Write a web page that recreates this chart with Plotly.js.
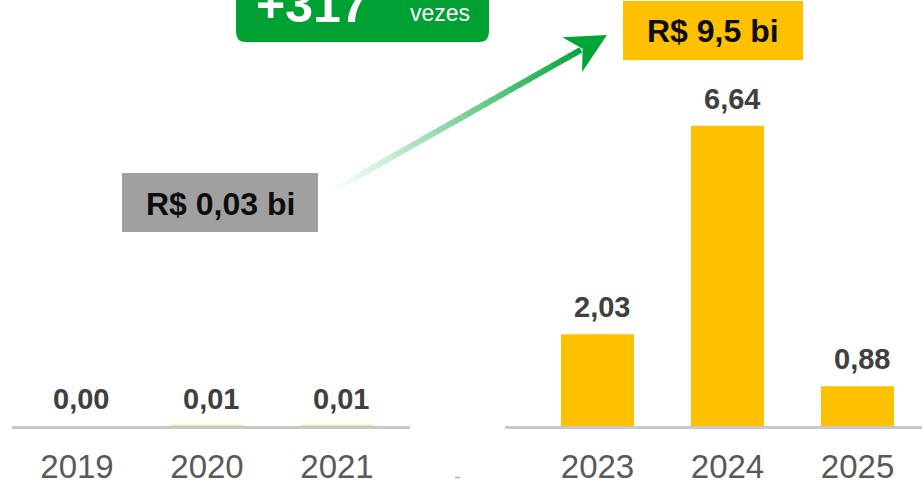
<!DOCTYPE html>
<html>
<head>
<meta charset="utf-8">
<script src="https://cdn.plot.ly/plotly-3.0.1.min.js"></script>
<style>html,body{margin:0;padding:0;background:#fff;}#chart{width:924px;height:488px;}</style>
</head>
<body>
<div id="chart"></div>
<script>
// ---- data ----
const yearsBefore = ['2019', '2020', '2021'];
const valuesBefore = [0.00, 0.01, 0.01];
const yearsAfter = ['2023', '2024', '2025'];
const valuesAfter = [2.03, 6.64, 0.88];
const totalBeforeLabel = 'R$ 0,03 bi';
const totalAfterLabel = 'R$ 9,5 bi';
const growthLabel = '+317';
const growthUnit = 'vezes';

// ---- helpers ----
const W = 924, H = 488;
const px = x => x / W;
const py = y => 1 - y / H;
const FONT = 'Liberation Sans, Arial, sans-serif';
const GOLD = '#FFC000';
const GREEN = '#00A032';
const fmt = v => v.toFixed(2).replace('.', ',');

const barStyle = { type: 'bar', width: 0.5615, marker: { color: GOLD }, hoverinfo: 'skip', cliponaxis: false };
const traces = [
  Object.assign({ x: yearsBefore, y: valuesBefore, xaxis: 'x', yaxis: 'y' }, barStyle),
  Object.assign({ x: yearsAfter, y: valuesAfter, xaxis: 'x2', yaxis: 'y' }, barStyle)
];

const axisStyle = {
  type: 'category', showgrid: false, zeroline: false, showline: true,
  linecolor: '#C8C8C8', linewidth: 3, ticks: '', anchor: 'y', fixedrange: true,
  ticklabelstandoff: 9,
  tickfont: { family: FONT, size: 33, color: '#595959' }
};

const annotations = [];
function valueLabels(xs, ys, xref) {
  xs.forEach((c, i) => annotations.push({
    xref: xref, yref: 'y', x: i, y: ys[i], text: '<b>' + fmt(ys[i]) + '</b>',
    showarrow: false, yanchor: 'bottom', xanchor: 'center', xshift: 4, yshift: 9,
    font: { family: FONT, size: 29, color: '#404040' }
  }));
}
valueLabels(yearsBefore, valuesBefore, 'x');
valueLabels(yearsAfter, valuesAfter, 'x2');

// summary boxes text
annotations.push({ xref: 'paper', yref: 'paper', x: px(220), y: py(204), text: '<b>' + totalBeforeLabel + '</b>',
  showarrow: false, xanchor: 'center', yanchor: 'middle', font: { family: FONT, size: 32, color: '#0D0D0D' } });
annotations.push({ xref: 'paper', yref: 'paper', x: px(713), y: py(31), text: '<b>' + totalAfterLabel + '</b>',
  showarrow: false, xanchor: 'center', yanchor: 'middle', font: { family: FONT, size: 32, color: '#0D0D0D' } });
annotations.push({ xref: 'paper', yref: 'paper', x: px(312), y: py(5), text: '<b>' + growthLabel + '</b>',
  showarrow: false, xanchor: 'center', yanchor: 'middle', font: { family: FONT, size: 50, color: '#FFFFFF' } });
annotations.push({ xref: 'paper', yref: 'paper', x: px(440), y: py(13), text: growthUnit,
  showarrow: false, xanchor: 'center', yanchor: 'middle', font: { family: FONT, size: 23, color: '#FFFFFF' } });

// shapes
const shapes = [];
shapes.push({ type: 'rect', xref: 'paper', yref: 'paper', x0: px(122), x1: px(318), y0: py(232), y1: py(173),
  fillcolor: '#A0A0A0', line: { width: 0 } });
shapes.push({ type: 'rect', xref: 'paper', yref: 'paper', x0: px(623), x1: px(803), y0: py(60), y1: py(1),
  fillcolor: GOLD, line: { width: 0 } });
(function () {
  const x0 = 236, x1 = 489, y0 = -30, y1 = 42, r = 10;
  const P = (x, y) => px(x) + ',' + py(y);
  const path = 'M ' + P(x0, y0) + ' L ' + P(x1, y0) + ' L ' + P(x1, y1 - r) +
    ' Q ' + P(x1, y1) + ' ' + P(x1 - r, y1) + ' L ' + P(x0 + r, y1) +
    ' Q ' + P(x0, y1) + ' ' + P(x0, y1 - r) + ' Z';
  shapes.push({ type: 'path', xref: 'paper', yref: 'paper', path: path, fillcolor: GREEN, line: { width: 0 } });
})();

// gradient arrow
(function () {
  const S = [330, 192], T = [607, 35];
  const dx = T[0] - S[0], dy = T[1] - S[1];
  const L = Math.hypot(dx, dy);
  const d = [dx / L, dy / L], n = [-d[1], d[0]];
  const pt = (a, b) => [T[0] + a * d[0] + b * n[0], T[1] + a * d[1] + b * n[1]];
  const notch = pt(-30, 0);
  const N = 60;
  for (let i = 0; i < N; i++) {
    const t0 = i / N, t1 = (i + 1.05) / N;
    const xa = S[0] + (notch[0] - S[0]) * t0, ya = S[1] + (notch[1] - S[1]) * t0;
    const xb = S[0] + (notch[0] - S[0]) * Math.min(t1, 1), yb = S[1] + (notch[1] - S[1]) * Math.min(t1, 1);
    const a = Math.pow((i + 0.5) / N, 1.1);
    shapes.push({ type: 'line', xref: 'paper', yref: 'paper', x0: px(xa), y0: py(ya), x1: px(xb), y1: py(yb),
      line: { color: 'rgba(0,165,55,' + a.toFixed(3) + ')', width: 6 } });
  }
  const b1 = pt(-40, -20), b2 = pt(-40, 20), nn = pt(-28, 0);
  const P = p => px(p[0]) + ',' + py(p[1]);
  shapes.push({ type: 'path', xref: 'paper', yref: 'paper',
    path: 'M ' + P(T) + ' L ' + P(b1) + ' L ' + P(nn) + ' L ' + P(b2) + ' Z',
    fillcolor: 'rgb(0,165,55)', line: { width: 0 } });
})();
// small grey mark near bottom centre
shapes.push({ type: 'line', xref: 'paper', yref: 'paper', x0: px(455), x1: px(460), y0: py(477.5), y1: py(477.5),
  line: { color: '#AAAAAA', width: 1.5 } });

const layout = {
  width: W, height: H, margin: { l: 0, r: 0, t: 0, b: 0 },
  paper_bgcolor: '#FFFFFF', plot_bgcolor: '#FFFFFF', showlegend: false,
  separators: ',.', font: { family: FONT },
  xaxis: Object.assign({}, axisStyle, { domain: [12 / W, 410 / W], range: [-0.5, 2.5615] }),
  xaxis2: Object.assign({}, axisStyle, { domain: [505 / W, 922 / W], range: [-0.7115, 2.496] }),
  yaxis: { domain: [1 - 426 / H, 1], range: [0, 426 / 45.2], showgrid: false, zeroline: false,
    showline: false, showticklabels: false, ticks: '', fixedrange: true },
  annotations: annotations,
  shapes: shapes
};

Plotly.newPlot('chart', traces, layout, { staticPlot: true, displayModeBar: false });
</script>
</body>
</html>
